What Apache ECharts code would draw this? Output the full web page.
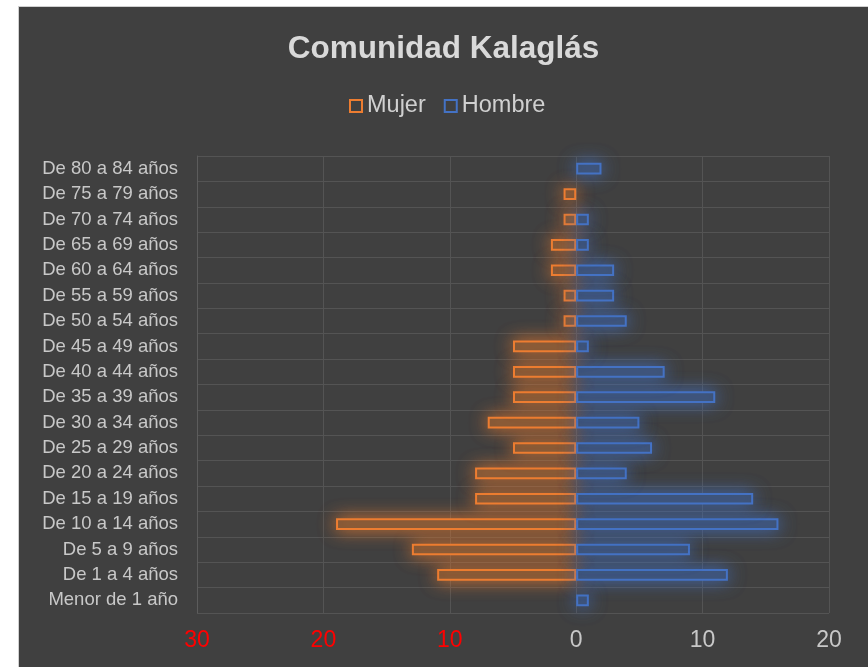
<!DOCTYPE html>
<html>
<head>
<meta charset="utf-8">
<script src="https://cdn.jsdelivr.net/npm/echarts@6/dist/echarts.min.js"></script>
<style>
  html, body { margin: 0; padding: 0; background: #ffffff; }
  #main {
    position: absolute; left: 18px; top: 6px;
    width: 849px; height: 660px;
    background: #404040; border: 1px solid #d0d0d0;
  }
</style>
</head>
<body>
<div id="main"></div>
<script>
// bottom to top, as the category axis draws them
const categories = [
  "Menor de 1 año", "De 1 a 4 años", "De 5 a 9 años", "De 10 a 14 años",
  "De 15 a 19 años", "De 20 a 24 años", "De 25 a 29 años", "De 30 a 34 años",
  "De 35 a 39 años", "De 40 a 44 años", "De 45 a 49 años", "De 50 a 54 años",
  "De 55 a 59 años", "De 60 a 64 años", "De 65 a 69 años", "De 70 a 74 años",
  "De 75 a 79 años", "De 80 a 84 años"
];
const mujer  = [0, 11, 13, 19, 8, 8, 5, 7, 5, 5, 5, 1, 1, 2, 2, 1, 1, 0];
const hombre = [1, 12, 9, 16, 14, 4, 6, 5, 11, 7, 1, 4, 3, 3, 1, 1, 0, 2];
const ticks = [-30, -20, -10, 0, 10, 20];

const toBar = (v, sign) => (v === 0 ? "-" : sign * v);

const myChart = echarts.init(document.getElementById("main"));
myChart.setOption({
  animation: false,
  backgroundColor: "#404040",
  textStyle: { fontFamily: "Liberation Sans, Arial, sans-serif" },
  title: {
    text: "Comunidad Kalaglás",
    left: "center",
    top: 21,
    textStyle: { color: "#d9d9d9", fontSize: 31.5, fontWeight: "bold" }
  },
  legend: {
    top: 82,
    left: 325,
    itemWidth: 12,
    itemHeight: 12,
    itemGap: 18,
    textStyle: { color: "#d0d0d0", fontSize: 23.5 },
    itemStyle: { color: "#404040", borderWidth: 2, shadowBlur: 0 },
    data: [
      { name: "Mujer", icon: "rect" },
      { name: "Hombre", icon: "rect" }
    ]
  },
  grid: { left: 178, right: 39, top: 149, bottom: 54, containLabel: false },
  xAxis: {
    type: "value",
    min: ticks[0],
    max: ticks[ticks.length - 1],
    interval: 10,
    axisLine: { show: false },
    axisTick: { show: false },
    splitLine: { show: true, lineStyle: { color: "#545454", width: 1 } },
    axisLabel: {
      margin: 16,
      fontSize: 23,
      formatter: v => String(Math.abs(v)),
      color: v => (v < 0 ? "#ff0000" : "#c8c8c8")
    }
  },
  yAxis: {
    type: "category",
    data: categories,
    axisLine: { show: true, onZero: false, lineStyle: { color: "#5c5c5c" } },
    axisTick: { show: false },
    splitLine: { show: true, lineStyle: { color: "#545454", width: 1 } },
    axisLabel: { color: "#c8c8c8", fontSize: 18.5, margin: 19 }
  },
  series: [
    {
      name: "Mujer",
      type: "bar",
      barWidth: "46%",
      barGap: "-100%",
      data: mujer.map(v => toBar(v, -1)),
      itemStyle: {
        color: "#7a5538",
        borderColor: "#ED7D31",
        borderWidth: 2,
        shadowBlur: 18,
        shadowColor: "rgba(237,125,49,0.9)"
      }
    },
    {
      name: "Hombre",
      type: "bar",
      barWidth: "46%",
      barGap: "-100%",
      data: hombre.map(v => toBar(v, 1)),
      itemStyle: {
        color: "#3e5070",
        borderColor: "#4472C4",
        borderWidth: 2,
        shadowBlur: 18,
        shadowColor: "rgba(68,114,196,0.9)"
      }
    }
  ]
});
</script>
</body>
</html>
